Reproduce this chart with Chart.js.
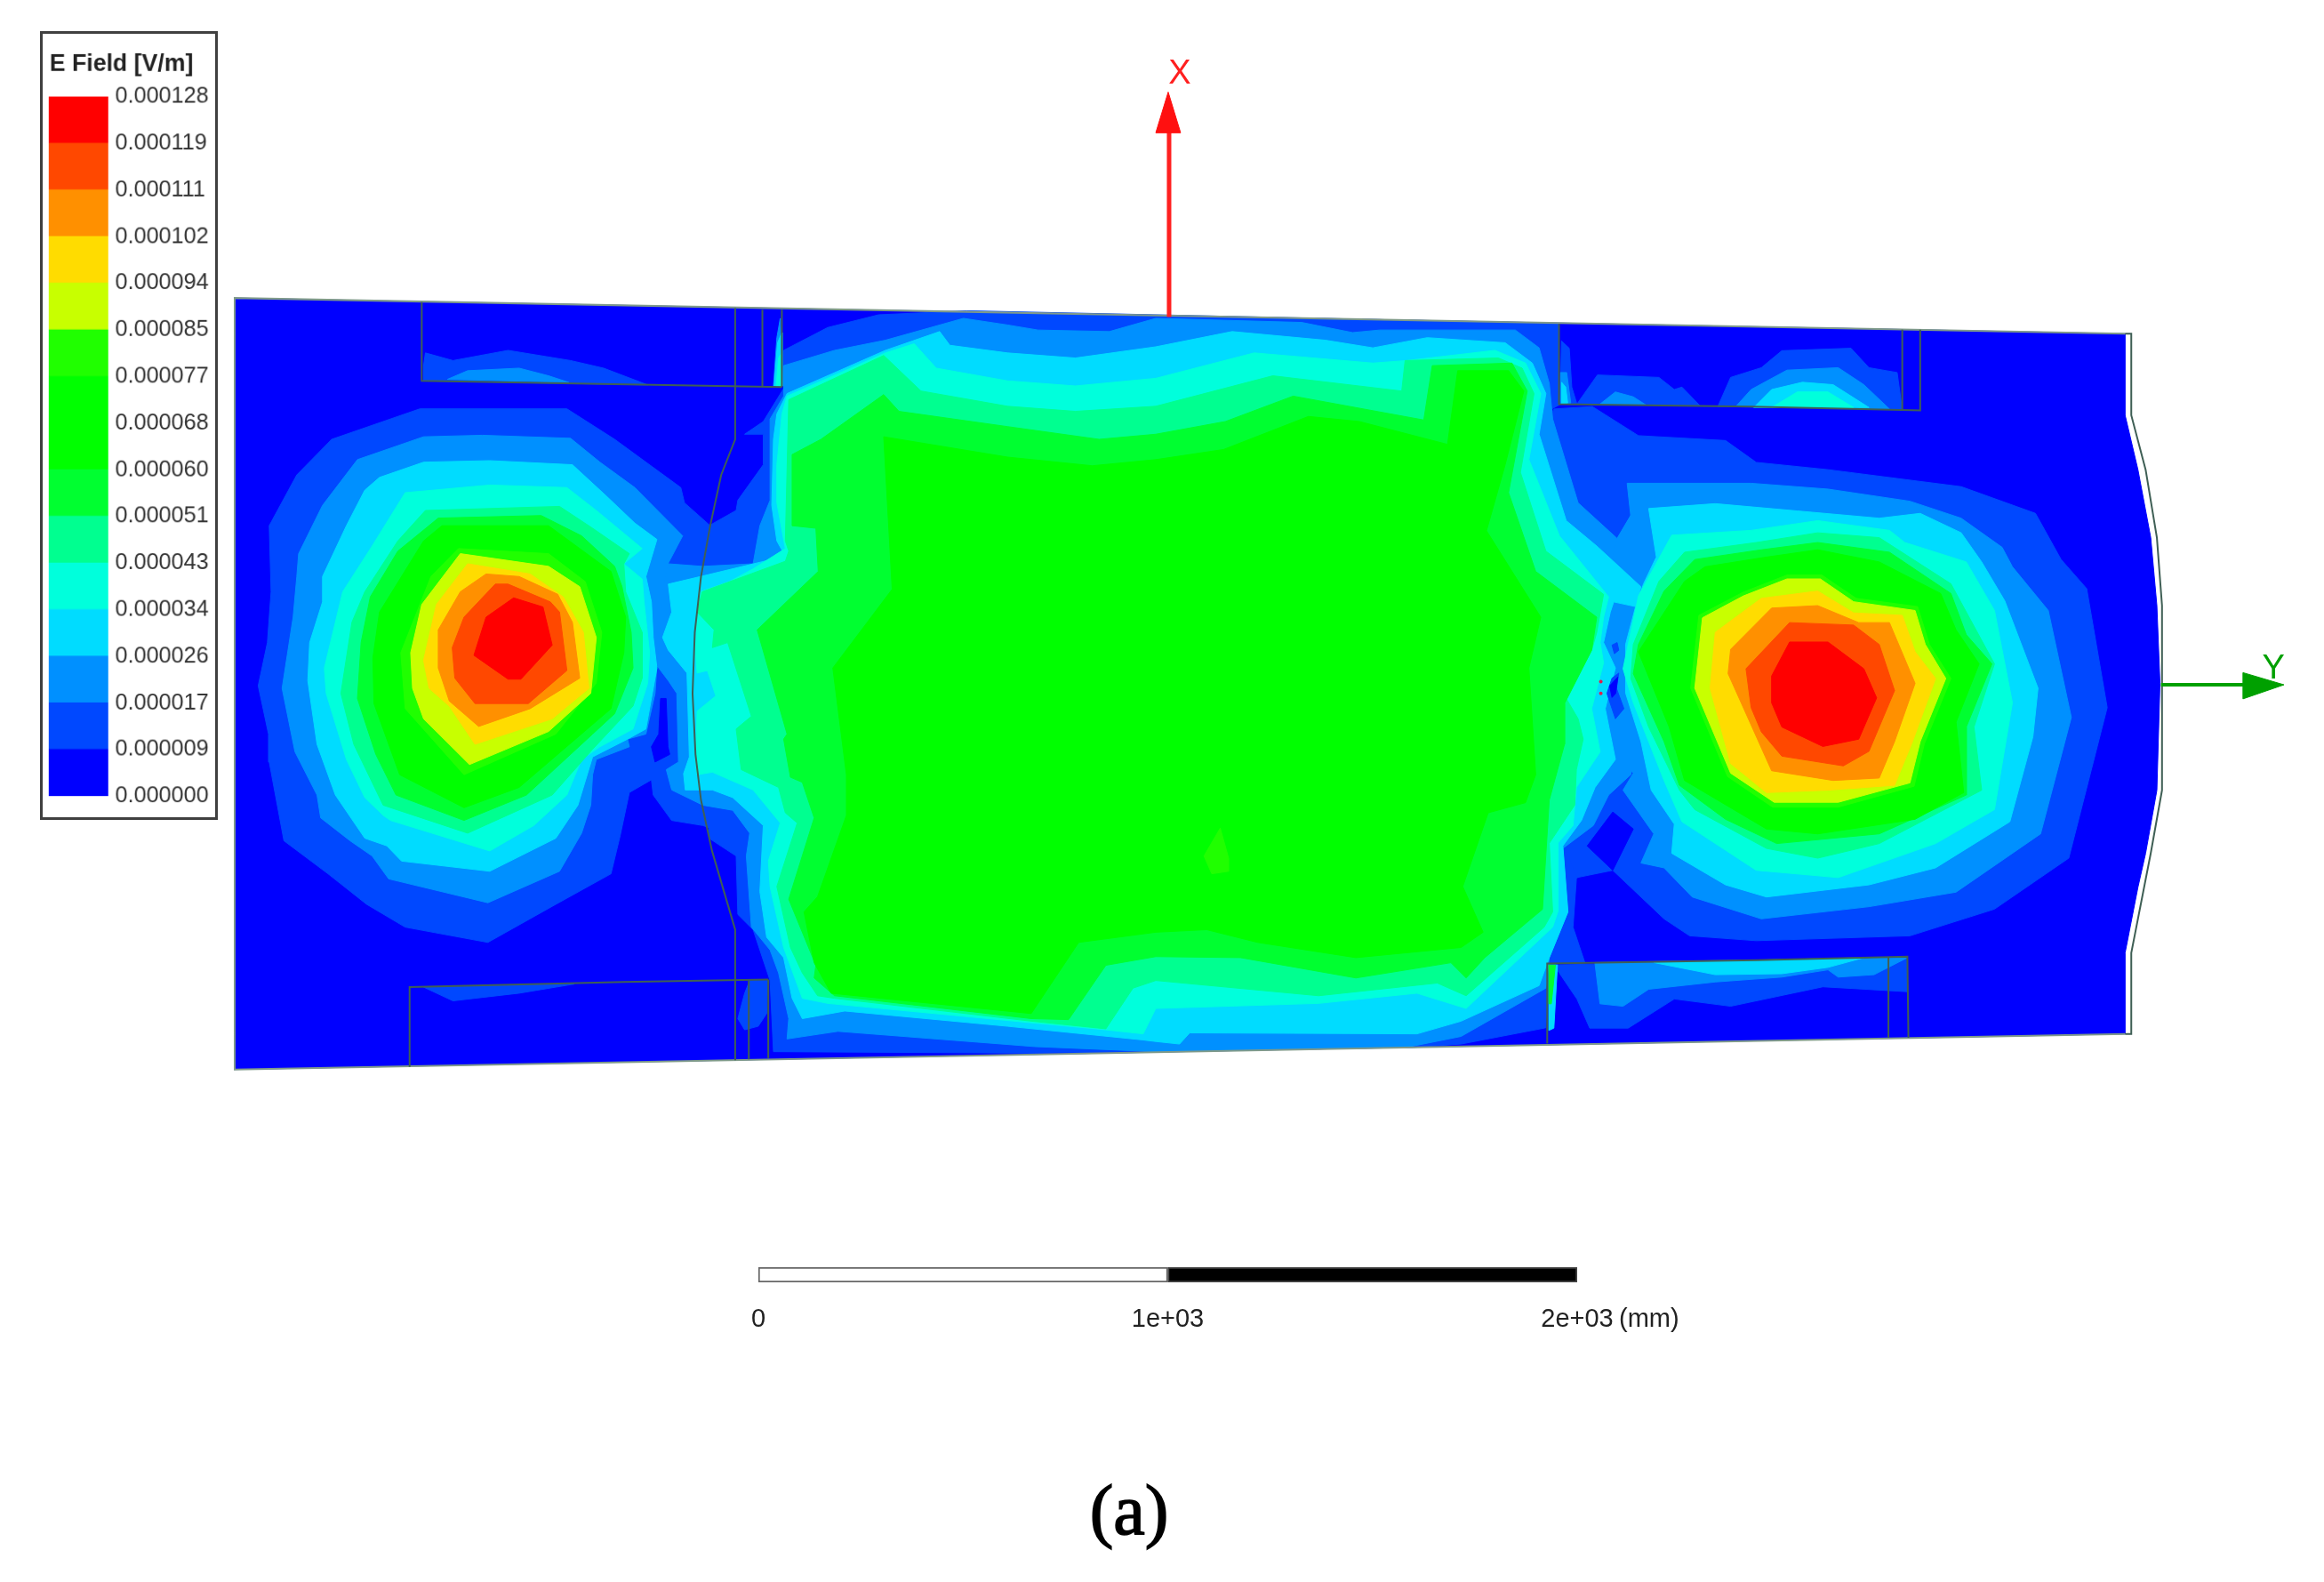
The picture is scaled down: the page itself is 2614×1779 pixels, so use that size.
<!DOCTYPE html>
<html lang="en">

<head>
    <meta charset="UTF-8">
    <title>E Field [V/m]</title>
    <style>
        body {
            margin: 0;
            background: white;
            width: 2614px;
            height: 1779px;
            overflow: hidden;
            position: relative;
        }

        canvas {
            position: absolute;
            display: block;
        }

        #fieldChart { left: 0; top: 0; }
        #legendChart { left: 45px; top: 35px; border: 3px solid #404040; box-sizing: border-box; }
        #scaleChart { left: 753px; top: 1413px; }
    </style>
</head>

<body>
    <canvas id="fieldChart" width="2614" height="1779"></canvas>
    <canvas id="legendChart" width="200" height="887"></canvas>
    <canvas id="scaleChart" width="1300" height="100"></canvas>

    <script src="https://cdn.jsdelivr.net/npm/chart.js"></script>
    <script>
        const crop = (ox, oy, kx, ky) => flat => {
            const pts = [];
            for (let i = 0; i < flat.length; i += 2) pts.push({ x: ox + flat[i] / kx, y: oy + flat[i + 1] / ky });
            return pts;
        };
        const left = crop(250, 320, 2.412, 1.742);
        const midL = crop(750, 320, 2.613, 1.742);
        const midR = crop(1300, 320, 2.613, 1.742);
        const right = crop(1700, 340, 1.73, 1.823);

        // legend
        const legendTitle = 'E Field [V/m]';
        const tickLabels = ['0.000000', '0.000009', '0.000017', '0.000026', '0.000034', '0.000043', '0.000051', '0.000060',
            '0.000068', '0.000077', '0.000085', '0.000094', '0.000102', '0.000111', '0.000119', '0.000128'];
        const bandColors = ['#0000ff', '#0048ff', '#0090ff', '#00dcff', '#00ffdc', '#00ff90', '#00ff30', '#00ff00',
            '#00ff00', '#20ff00', '#c8ff00', '#ffdc00', '#ff9000', '#ff4800', '#ff0000'];

        // scale bar
        const scaleTicks = [0, 1000, 2000];
        const scaleLabels = ['0', '1e+03', '2e+03'];

        // model outline
        const domain = [...left([26, 22, 26, 1540]),
            ...right([1200, 1502, 1200, 1335, 1225, 1200, 1240, 1130, 1262, 1000, 1268, 780, 1262, 620, 1250, 480, 1225, 340, 1200, 228, 1200, 60])];

        // one list of closed contours per colour band, band 8 is the same green as band 7
        const band1 = [
            left([120, 470, 195, 370, 290, 300, 530, 240, 930, 240, 1060, 300, 1240, 395, 1250, 425, 1320, 470, 1388, 455, 1500, 455, 1500, 700, 1400, 1085, 1300, 1060, 1215, 1050, 1165, 1000, 1160, 970, 1100, 995, 1075, 1080, 1050, 1155, 900, 1215, 715, 1290, 490, 1260, 385, 1215, 280, 1155, 160, 1090, 120, 935, 118, 880, 90, 785, 115, 700, 125, 600]),
            [...midL([225, 290, 280, 265, 340, 200, 340, 125, 470, 80, 620, 55, 880, 47]),
                ...midR([1188, 72, 1190, 232, 1168, 240, 1245, 425, 1400, 500, 1400, 1000, 1300, 1110, 1240, 1165, 1230, 1260, 1265, 1330, 1155, 1332, 1150, 1458, 900, 1490, 750, 1497]),
                ...midL([1080, 1508, 310, 1505, 300, 1365, 250, 1265, 205, 1235, 200, 1120, 120, 1085, 120, 470, 200, 440, 205, 420, 280, 350, 280, 290])],
            right([85, 215, 160, 210, 250, 270, 420, 280, 480, 325, 620, 340, 880, 375, 1025, 430, 1075, 525, 1125, 585, 1165, 830, 1090, 1140, 945, 1245, 780, 1300, 480, 1310, 350, 1300, 300, 1265, 200, 1165, 130, 1180, 100, 1100, 60, 600]),
            left([540, 155, 545, 130, 620, 145, 770, 125, 940, 145, 1030, 160, 1150, 193, 540, 185]),
            left([540, 1378, 620, 1405, 800, 1390, 950, 1372]),
            midL([205, 1440, 225, 1390, 240, 1365, 293, 1365, 290, 1430, 265, 1455, 225, 1462]),
            right([100, 75, 115, 90, 120, 170, 130, 205, 97, 205]),
            right([130, 205, 170, 145, 290, 150, 320, 175, 335, 170, 370, 208]),
            right([405, 210, 430, 150, 490, 130, 530, 95, 665, 90, 700, 130, 755, 140, 765, 216]),
            right([85, 1360, 775, 1345, 775, 1415, 610, 1405, 430, 1445, 320, 1430, 230, 1490, 155, 1490, 130, 1430])
        ];
        const band2 = [
            left([360, 340, 540, 295, 700, 292, 940, 298, 1020, 345, 1115, 395, 1245, 490, 1205, 545, 1205, 600, 1185, 690, 1175, 745, 1170, 800, 1145, 880, 1095, 890, 1100, 905, 1010, 930, 1000, 960, 995, 1020, 970, 1075, 910, 1150, 715, 1212, 445, 1165, 400, 1120, 340, 1090, 260, 1045, 250, 1000, 190, 915, 155, 790, 185, 650, 195, 570, 200, 525, 265, 430]),
            [...midL([0, 545, 100, 550, 250, 545, 270, 470, 300, 420, 300, 260, 340, 215, 340, 155, 490, 125, 640, 105, 870, 62, 1000, 75, 1090, 85, 1300, 88, 1437, 62]),
                ...midR([0, 62, 430, 70, 580, 90, 660, 85, 1060, 85, 1130, 120, 1160, 190, 1170, 260, 1245, 425, 1360, 495, 1400, 450, 1400, 960, 1335, 1000, 1290, 1060, 1200, 1105, 1215, 1230, 1160, 1320, 1150, 1380, 900, 1475, 750, 1495, 0, 1505]),
                ...midL([1080, 1495, 500, 1465, 350, 1480, 355, 1440, 325, 1350, 300, 1305, 245, 1260, 230, 1120, 240, 1075, 190, 1030, 102, 1020, 10, 990, -6, 950, 30, 935, 25, 800, 0, 775, -34, 745, -25, 690, -17, 600])],
            right([228, 368, 470, 368, 620, 380, 780, 405, 880, 440, 960, 500, 980, 540, 1050, 630, 1095, 850, 1035, 1090, 870, 1210, 700, 1240, 490, 1265, 355, 1220, 300, 1160, 255, 1150, 280, 1090, 220, 1000, 240, 965, 210, 935, 150, 700, 210, 480, 235, 435]),
            left([605, 182, 660, 165, 800, 160, 880, 175, 935, 188]),
            midL([310, 195, 320, 100, 330, 62, 337, 195]),
            right([98, 140, 110, 140, 118, 203, 98, 205]),
            right([175, 205, 205, 180, 240, 190, 265, 207]),
            right([440, 210, 470, 175, 540, 135, 640, 130, 690, 165, 740, 215]),
            right([165, 1355, 775, 1345, 710, 1380, 640, 1385, 620, 1370, 530, 1385, 400, 1395, 270, 1410, 220, 1445, 175, 1440])
        ];
        const band3 = [
            left([420, 375, 540, 345, 720, 342, 945, 350, 1035, 410, 1115, 465, 1175, 497, 1145, 570, 1160, 620, 1165, 690, 1175, 750, 1145, 870, 1095, 890, 1000, 925, 960, 1020, 900, 1085, 720, 1150, 480, 1130, 440, 1100, 380, 1085, 300, 1000, 250, 900, 225, 775, 230, 700, 265, 620, 265, 570, 330, 470, 380, 400]),
            [...midL([0, 585, 95, 570, 345, 530, 320, 500, 305, 430, 310, 300, 320, 250, 350, 210, 640, 125, 800, 88, 830, 115, 1000, 130, 1200, 140, 1437, 118]),
                ...midR([225, 88, 500, 105, 640, 120, 800, 100, 1030, 110, 1110, 150, 1150, 210, 1130, 290, 1210, 460, 1300, 510, 1430, 590, 1420, 630, 1350, 620, 1340, 640, 1320, 700, 1355, 750, 1325, 830, 1355, 930, 1295, 985, 1255, 1050, 1200, 1100, 1215, 1230, 1160, 1320, 1130, 1375, 900, 1445, 770, 1470, 100, 1468, 70, 1490, 0, 1485]),
                ...midL([1400, 1482, 1000, 1455, 520, 1425, 395, 1440, 365, 1400, 340, 1320, 290, 1280, 270, 1190, 280, 1060, 190, 1005, 130, 990, 50, 990, 45, 958, 62, 925, 55, 760, 0, 715, -17, 690, 10, 640])],
            right([270, 420, 400, 410, 560, 425, 720, 440, 800, 430, 880, 470, 920, 530, 965, 610, 1030, 790, 1020, 890, 975, 1065, 830, 1160, 700, 1195, 500, 1220, 420, 1195, 315, 1130, 320, 1070, 275, 1000, 255, 900, 225, 800, 225, 700, 245, 620, 260, 575, 285, 520]),
            midL([312, 195, 322, 110, 335, 90, 336, 195]),
            right([100, 160, 108, 170, 112, 203, 100, 205]),
            right([475, 212, 510, 175, 570, 160, 630, 165, 700, 212]),
            right([280, 1355, 690, 1345, 620, 1365, 530, 1378, 400, 1380]),
            right([75, 1360, 92, 1360, 85, 1490, 75, 1495])
        ];
        const band4 = [
            left([490, 405, 720, 390, 930, 395, 1010, 440, 1135, 515, 1085, 545, 1135, 575, 1140, 620, 1155, 720, 1150, 780, 1110, 870, 1020, 905, 970, 930, 930, 1000, 840, 1060, 720, 1110, 450, 1050, 430, 1040, 380, 1005, 330, 930, 275, 800, 270, 750, 320, 600, 400, 510]),
            [...midL([350, 215, 640, 130, 725, 112, 790, 160, 1000, 185, 1200, 195, 1437, 180]),
                ...midR([290, 130, 640, 150, 740, 145, 1000, 125, 1090, 150, 1135, 210, 1100, 340, 1190, 490, 1335, 610, 1320, 650, 1310, 700, 1320, 740, 1285, 830, 1310, 915, 1240, 985, 1230, 1060, 1185, 1095, 1185, 1230, 1170, 1260, 915, 1420, 770, 1390, 480, 1410, 0, 1420]),
                ...midL([1400, 1470, 1290, 1462, 470, 1410, 395, 1400, 340, 1300, 300, 1180, 295, 1130, 330, 1055, 250, 990, 130, 955, 85, 960, 80, 930, 85, 835, 140, 805, 115, 755, 85, 760, 80, 720, 85, 640, 95, 600, 180, 580, 250, 555, 345, 515, 320, 425, 320, 350, 335, 250])],
            right([315, 475, 470, 465, 600, 445, 740, 465, 770, 490, 890, 530, 945, 630, 980, 820, 945, 1040, 830, 1110, 640, 1180, 480, 1165, 335, 1065, 300, 980, 240, 820, 220, 750, 250, 600]),
            midL([318, 195, 325, 140, 335, 130, 335, 195]),
            right([510, 212, 560, 180, 620, 180, 670, 212])
        ];
        const band5 = [
            left([545, 440, 910, 432, 1000, 475, 1100, 525, 1085, 545, 1090, 600, 1135, 680, 1135, 770, 1110, 825, 1000, 910, 890, 1000, 660, 1075, 430, 1020, 350, 900, 315, 800, 345, 660, 380, 600, 470, 500]),
            [...midL([355, 222, 635, 135, 745, 205, 1000, 235, 1200, 245, 1437, 235]),
                ...midR([345, 175, 725, 205, 735, 145, 1010, 140, 1080, 160, 1115, 210, 1075, 365, 1150, 520, 1320, 605, 1300, 680, 1285, 715, 1210, 810, 1245, 850, 1260, 890, 1240, 950, 1235, 1020, 1160, 1095, 1170, 1230, 1145, 1260, 915, 1395, 830, 1370, 480, 1395, 0, 1365]),
                ...midL([1370, 1380, 1290, 1460, 1070, 1445, 490, 1400, 440, 1395, 395, 1350, 360, 1300, 320, 1180, 380, 1055, 345, 1035, 325, 985, 215, 950, 200, 870, 245, 845, 175, 700, 130, 710, 135, 675, 85, 640, 100, 600, 345, 540, 355, 520, 345, 500])],
            right([340, 510, 480, 490, 600, 470, 720, 480, 860, 575, 945, 740, 905, 870, 920, 1000, 720, 1110, 600, 1140, 500, 1120, 360, 1040, 330, 1000, 270, 870, 235, 770, 240, 700, 290, 570])
        ];
        const band6 = [
            left([580, 455, 860, 450, 970, 490, 1060, 550, 1080, 590, 1105, 680, 1110, 750, 1060, 840, 1000, 880, 820, 1000, 650, 1050, 465, 1000, 410, 920, 360, 810, 370, 700, 395, 610, 470, 520]),
            [...midL([365, 330, 450, 300, 635, 212, 680, 245, 1000, 275, 1270, 300, 1437, 290]),
                ...midR([205, 265, 405, 215, 790, 262, 815, 155, 1050, 150, 1095, 205, 1040, 405, 1120, 560, 1300, 650, 1285, 715, 1205, 820, 1205, 900, 1160, 1010, 1140, 1225, 970, 1320, 915, 1360, 870, 1330, 590, 1360, 250, 1320, 0, 1318]),
                ...midL([1290, 1335, 1180, 1442, 1070, 1440, 490, 1395, 430, 1360, 435, 1335, 355, 1205, 430, 1045, 395, 975, 360, 965, 340, 890, 350, 880, 262, 675, 442, 560, 435, 475, 365, 470])],
            right([360, 525, 490, 505, 600, 490, 740, 510, 860, 595, 890, 680, 940, 740, 890, 870, 890, 1010, 720, 1090, 520, 1110, 420, 1060, 330, 990, 300, 900, 240, 760, 250, 700, 300, 590]),
            right([75, 1360, 88, 1360, 80, 1440, 75, 1440])
        ];
        const band7 = [
            left([590, 470, 880, 470, 1050, 560, 1090, 650, 1085, 720, 1050, 830, 800, 985, 650, 1025, 475, 960, 405, 820, 402, 730, 420, 640, 540, 500]),
            [...midL([635, 295, 1000, 335, 1250, 352, 1437, 340]),
                ...midR([200, 320, 450, 255, 600, 265, 860, 310, 890, 165, 1040, 165, 1085, 205, 1030, 350, 975, 480, 1135, 650, 1100, 750, 1120, 960, 1090, 1015, 980, 1035, 905, 1180, 965, 1270, 900, 1300, 590, 1320, 300, 1290, 150, 1265, 0, 1270]),
                ...midL([1210, 1290, 1070, 1430, 480, 1390, 430, 1330, 400, 1230, 440, 1200, 525, 1040, 525, 960, 485, 750, 660, 595])],
            right([380, 540, 500, 520, 600, 505, 720, 530, 840, 595, 870, 670, 915, 740, 870, 860, 885, 1005, 790, 1060, 600, 1090, 500, 1080, 340, 980, 310, 870, 250, 715, 340, 570])
        ];
        const band9 = [
            left([635, 515, 880, 525, 980, 580, 1025, 680, 1010, 780, 900, 880, 650, 960, 490, 830, 478, 720, 560, 570]),
            right([368, 640, 455, 592, 540, 557, 608, 557, 675, 605, 795, 622, 818, 700, 860, 770, 808, 905, 788, 992, 640, 1035, 512, 1035, 424, 972, 352, 790]),
            midR([190, 1065, 142, 1120, 165, 1155, 215, 1150, 215, 1125])
        ];
        const band10 = [
            left([640, 525, 880, 550, 965, 590, 1010, 690, 995, 800, 880, 875, 665, 940, 540, 850, 510, 790, 505, 720, 535, 625]),
            right([375, 645, 455, 600, 540, 565, 605, 565, 670, 612, 790, 630, 810, 700, 850, 770, 800, 900, 780, 985, 640, 1025, 515, 1025, 430, 965, 360, 790])
        ];
        const band11 = [
            left([660, 545, 830, 565, 920, 610, 975, 680, 990, 790, 890, 850, 680, 900, 610, 825, 555, 790, 540, 735, 575, 625]),
            right([400, 675, 490, 605, 600, 590, 670, 635, 765, 640, 790, 715, 830, 770, 785, 900, 750, 990, 620, 1000, 500, 1005, 430, 945, 390, 790])
        ];
        const band12 = [
            left([710, 565, 800, 570, 905, 605, 945, 660, 965, 770, 830, 830, 690, 865, 610, 815, 580, 750, 580, 675, 640, 600]),
            right([430, 710, 510, 625, 600, 620, 680, 655, 740, 655, 790, 780, 750, 900, 720, 975, 630, 980, 510, 960, 425, 760])
        ];
        const band13 = [
            left([735, 585, 770, 585, 885, 620, 910, 640, 930, 755, 825, 820, 680, 820, 625, 770, 618, 710, 650, 650]),
            right([460, 750, 545, 655, 670, 660, 720, 700, 750, 795, 700, 920, 650, 950, 530, 930, 490, 880, 470, 830])
        ];
        const band14 = [
            left([785, 612, 865, 630, 890, 705, 805, 772, 770, 772, 677, 725, 710, 650]),
            right([510, 765, 545, 695, 620, 695, 690, 750, 715, 810, 680, 895, 610, 910, 530, 870, 510, 820])
        ];

        // low field pockets that sit on top of the rings around them
        const pocket1 = [midR([1345, 705, 1360, 700, 1365, 715, 1352, 722]),
            midR([1330, 800, 1345, 770, 1365, 760, 1358, 790, 1380, 830, 1355, 850])];
        const pocket0 = [left([1185, 810, 1200, 810, 1205, 905, 1210, 920, 1170, 935, 1160, 905, 1180, 880]),
            right([200, 1045, 240, 1080, 200, 1165, 150, 1115]),
            midR([1338, 785, 1362, 768, 1356, 800, 1345, 808])];
        const hotSpots = midR([1312, 777, 1312, 800]);

        // geometry edges
        const edges = [
            left([535, 30, 535, 185, 1515, 197]),
            left([1388, 42, 1388, 300, 1350, 370, 1320, 470, 1295, 570, 1278, 680, 1272, 800, 1280, 920, 1295, 1010, 1325, 1110, 1388, 1265, 1388, 1522]),
            left([1462, 45, 1462, 197]),
            left([1515, 45, 1515, 197]),
            left([502, 1535, 502, 1378, 1085, 1368, 1478, 1363]),
            left([1425, 1365, 1425, 1520]),
            left([1478, 1363, 1478, 1518]),
            right([95, 40, 95, 205, 470, 210, 800, 218, 800, 52]),
            right([765, 52, 765, 218]),
            right([72, 1522, 72, 1357, 480, 1350, 775, 1343, 777, 1510]),
            right([738, 1345, 738, 1510]),
            right([1200, 60, 1212, 60, 1212, 228, 1240, 340, 1262, 480, 1272, 620, 1272, 780, 1272, 1000, 1250, 1130, 1212, 1335, 1212, 1502, 1200, 1502])
        ];
        // thin pale line along the outside of the model
        const rim = [...right([1200, 60]), ...left([26, 22, 26, 1540]), ...right([1200, 1502])];

        // coordinate triad
        const xShaft = [{ x: 1315, y: 145 }, { x: 1315, y: 354 }];
        const xHead = [{ x: 1314, y: 100 }, { x: 1328, y: 146 }, { x: 1300, y: 146 }];
        const yShaft = right([1270, 783, 1440, 783]);
        const yHead = right([1430, 758, 1510, 783, 1430, 812]);

        const polygon = (pts, color) => ({
            data: [...pts, pts[0]],
            showLine: true,
            fill: 'shape',
            backgroundColor: color,
            borderColor: color,
            borderWidth: 1,
            pointRadius: 0,
            clip: false
        });
        const polyline = (pts, color, width) => ({
            data: pts,
            showLine: true,
            fill: false,
            borderColor: color,
            borderWidth: width,
            pointRadius: 0,
            clip: false
        });

        const layers = [[0, [domain]], [1, band1], [2, band2], [3, band3], [4, band4], [5, band5], [6, band6], [7, band7],
            [9, band9], [10, band10], [11, band11], [12, band12], [13, band13], [14, band14], [1, pocket1], [0, pocket0]];
        const datasets = [];
        layers.forEach(([level, shapes]) => shapes.forEach(s => datasets.push(polygon(s, bandColors[level]))));
        datasets.push(polyline(rim, '#7f9a8a', 2));
        edges.forEach(e => datasets.push(polyline(e, '#3f5f55', 2)));
        datasets.push({ data: hotSpots, pointRadius: 2, pointBackgroundColor: '#e0204a', pointBorderWidth: 0 });
        datasets.push(polyline(xShaft, '#ff2020', 5), polygon(xHead, '#ff1010'));
        datasets.push(polyline(yShaft, '#00a000', 4), polygon(yHead, '#00a000'));
        // Chart.js paints the first dataset last
        datasets.reverse();

        // free text of the picture
        const notes = [
            { text: 'X', x: 1327, y: 80, font: '38px "Liberation Sans"', color: '#ff2020' },
            { text: 'Y', x: 2561, y: 752, font: '38px "Liberation Sans"', color: '#00a000' },
            { text: '(a)', x: 1270, y: 1708, font: '80px "Liberation Serif"', color: '#000', stroke: 1.5 }
        ];
        const notesPlugin = {
            id: 'notes',
            afterDraw(chart) {
                const { ctx, scales } = chart;
                ctx.save();
                ctx.textAlign = 'center';
                ctx.textBaseline = 'middle';
                notes.forEach(n => {
                    const px = scales.x.getPixelForValue(n.x);
                    const py = scales.y.getPixelForValue(n.y);
                    ctx.font = n.font;
                    ctx.fillStyle = n.color;
                    ctx.fillText(n.text, px, py);
                    if (n.stroke) {
                        ctx.strokeStyle = n.color;
                        ctx.lineWidth = n.stroke;
                        ctx.strokeText(n.text, px, py);
                    }
                });
                ctx.restore();
            }
        };

        new Chart(document.getElementById('fieldChart'), {
            type: 'scatter',
            data: { datasets },
            plugins: [notesPlugin],
            options: {
                responsive: false,
                animation: false,
                devicePixelRatio: 1,
                layout: { padding: 0 },
                plugins: { legend: { display: false }, tooltip: { enabled: false } },
                scales: {
                    x: { type: 'linear', min: 0, max: 2614, display: false },
                    y: { type: 'linear', min: 0, max: 1779, reverse: true, display: false }
                }
            }
        });

        // legend, one floating bar per colour band
        new Chart(document.getElementById('legendChart'), {
            type: 'bar',
            data: {
                labels: [''],
                datasets: bandColors.map((color, i) => ({
                    data: [[i, i + 1]],
                    backgroundColor: color,
                    borderWidth: 0,
                    barPercentage: 1,
                    categoryPercentage: 1,
                    grouped: false
                }))
            },
            options: {
                responsive: false,
                animation: false,
                devicePixelRatio: 1,
                layout: { padding: { left: 7, top: 71, bottom: 24, right: 0 } },
                plugins: {
                    legend: { display: false },
                    tooltip: { enabled: false },
                    title: { display: false }
                },
                scales: {
                    x: { display: false },
                    y: {
                        position: 'right',
                        min: 0,
                        max: 15,
                        border: { display: false },
                        grid: { display: false, drawTicks: false },
                        afterFit: s => { s.width = 124; },
                        ticks: {
                            stepSize: 1,
                            autoSkip: false,
                            padding: 8,
                            color: '#333',
                            font: { family: '"Liberation Sans"', size: 26 },
                            callback: v => tickLabels[v]
                        }
                    }
                }
            },
            plugins: [{
                id: 'legendTitle',
                afterDraw(chart) {
                    const { ctx } = chart;
                    ctx.save();
                    ctx.font = 'bold 27.5px "Liberation Sans"';
                    ctx.fillStyle = '#222';
                    ctx.textBaseline = 'middle';
                    ctx.fillText(legendTitle, 8, 34);
                    ctx.restore();
                }
            }]
        });

        // scale bar
        new Chart(document.getElementById('scaleChart'), {
            type: 'bar',
            data: {
                labels: [''],
                datasets: [
                    { data: [[scaleTicks[0], scaleTicks[1]]], backgroundColor: 'white', borderColor: '#666', borderWidth: 2, borderSkipped: false, barPercentage: 1, categoryPercentage: 1, grouped: false },
                    { data: [[scaleTicks[1], scaleTicks[2]]], backgroundColor: 'black', borderColor: '#444', borderWidth: 2, borderSkipped: false, barPercentage: 1, categoryPercentage: 1, grouped: false }
                ]
            },
            options: {
                indexAxis: 'y',
                responsive: false,
                animation: false,
                devicePixelRatio: 1,
                layout: { padding: { left: 100, right: 279, top: 12, bottom: 3 } },
                plugins: { legend: { display: false }, tooltip: { enabled: false } },
                scales: {
                    y: { display: false },
                    x: {
                        type: 'linear',
                        min: scaleTicks[0],
                        max: scaleTicks[2],
                        border: { display: false },
                        grid: { display: false, drawTicks: false },
                        afterBuildTicks: s => { s.ticks = scaleTicks.map(value => ({ value })); },
                        afterFit: s => { s.height = 68; },
                        ticks: {
                            padding: 25,
                            maxRotation: 0,
                            autoSkip: false,
                            color: '#222',
                            font: { family: '"Liberation Sans"', size: 29 },
                            callback: v => scaleLabels[scaleTicks.indexOf(v)]
                        }
                    }
                }
            },
            plugins: [{
                id: 'scaleUnit',
                afterDraw(chart) {
                    const { ctx, scales } = chart;
                    ctx.save();
                    ctx.font = '29px "Liberation Sans"';
                    ctx.fillStyle = '#222';
                    ctx.textBaseline = 'middle';
                    ctx.fillText('(mm)', scales.x.getPixelForValue(2000) + 47, 71);
                    ctx.restore();
                }
            }]
        });
    </script>
</body>

</html>
